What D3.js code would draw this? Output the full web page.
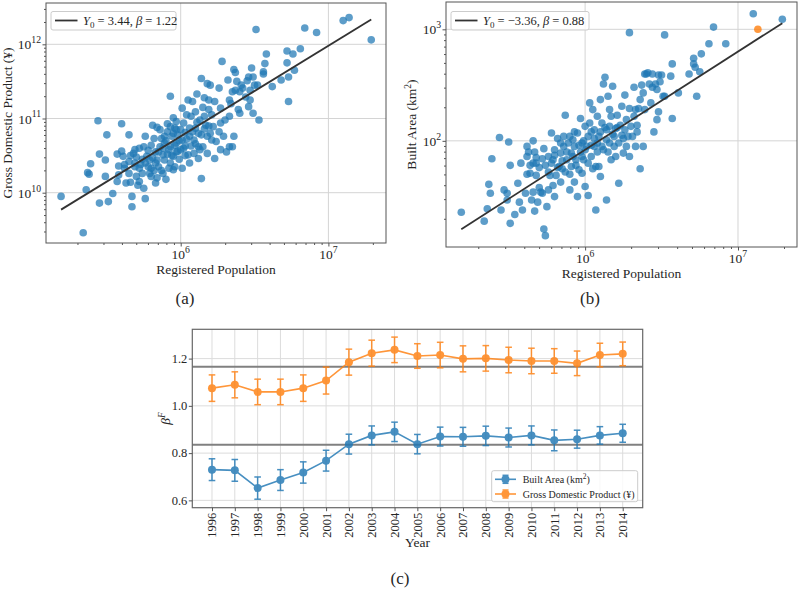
<!DOCTYPE html>
<html><head><meta charset="utf-8">
<script src="https://cdnjs.cloudflare.com/ajax/libs/d3/7.8.5/d3.min.js"></script>
<style>
body{margin:0;background:#fff}
svg text{font-family:"Liberation Serif","DejaVu Serif",serif;fill:#262626}
</style>
</head><body>
<svg id="chart" width="800" height="590"></svg>
<script>
// ---------------- DATA ----------------
// Panel (a): log10 registered population and log10 GDP (¥) per city
const popA = [
5.19,5.34,5.36,5.37,5.38,5.39,5.45,5.44,5.45,5.49,
5.50,5.51,5.49,5.54,5.57,5.60,5.58,5.57,5.58,5.61,
5.62,5.63,5.65,5.65,5.66,5.67,5.67,5.68,5.69,5.69,
5.70,5.71,5.72,5.72,5.74,5.75,5.76,5.75,5.76,5.77,
5.78,5.79,5.79,5.80,5.80,5.81,5.82,5.83,5.83,5.84,
5.84,5.85,5.86,5.86,5.87,5.88,5.88,5.89,5.89,5.90,
5.91,5.91,5.92,5.93,5.93,5.93,5.94,5.95,5.95,5.95,
5.96,5.96,5.97,5.97,5.97,5.98,5.99,6.00,6.01,6.01,
6.01,6.02,6.03,6.03,6.04,6.05,6.05,6.06,6.06,6.06,
6.07,6.07,6.08,6.09,6.09,6.10,6.10,6.11,6.12,6.12,
6.12,6.13,6.14,6.14,6.14,6.15,6.15,6.16,6.16,6.17,
6.18,6.18,6.18,6.19,6.19,6.20,6.20,6.21,6.21,6.22,
6.23,6.23,6.24,6.26,6.26,6.27,6.27,6.27,6.28,6.29,
6.30,6.31,6.32,6.33,6.33,6.33,6.34,6.35,6.35,6.36,
6.36,6.37,6.37,6.38,6.39,6.40,6.40,6.41,6.42,6.44,
6.45,6.46,6.46,6.47,6.47,6.48,6.49,6.49,6.50,6.51,
6.52,6.53,6.56,6.56,6.57,6.58,6.62,6.68,6.72,6.72,
6.73,6.73,6.76,6.77,6.81,6.84,6.92,7.10,7.14,7.29,
5.88,5.90,5.92,5.94,5.96,5.98,5.99,6.00,6.02,6.03,
5.85,5.83,5.81,5.78,5.76,5.74,5.72,5.70,5.93,5.95,
5.97,5.91,5.89,6.04,6.08,6.10,6.13,6.16,6.19,6.11,
5.87,5.80,5.82,5.84,5.65,5.62,5.60,5.66,5.69,5.73];
const gdpA = [
9.95,9.46,10.04,10.27,10.25,10.39,9.86,10.97,10.52,10.44,
10.78,9.88,10.22,9.99,10.52,10.93,10.24,10.15,10.36,10.49,
10.33,10.13,10.78,10.26,10.14,9.81,9.95,10.53,10.58,10.40,
10.22,10.10,10.15,10.33,10.26,10.06,9.92,10.62,10.76,10.49,
10.35,10.26,10.44,10.33,10.64,10.91,10.73,10.55,10.13,10.88,
10.44,10.35,10.62,10.85,10.73,10.51,10.26,10.44,10.67,10.18,
10.82,10.52,10.33,10.89,10.62,11.30,10.76,10.49,11.01,10.31,
10.35,10.87,10.55,10.67,10.96,10.78,10.45,10.58,10.33,11.14,
10.71,10.94,10.81,10.63,11.05,11.25,10.51,10.40,10.76,10.87,
10.63,11.03,11.23,10.53,10.71,10.87,11.09,11.33,10.46,10.80,
10.62,10.98,11.54,10.19,10.78,11.15,10.62,11.28,11.03,10.91,
11.47,10.76,10.53,11.25,11.12,11.45,10.80,10.71,11.05,10.89,
11.23,10.46,10.69,10.82,11.41,10.58,11.14,10.94,11.77,10.76,
10.98,10.55,11.52,10.62,11.25,11.03,11.20,11.36,10.62,10.76,
11.66,11.38,11.62,11.50,11.12,11.36,11.07,11.45,11.41,11.29,
11.51,11.16,11.56,11.38,11.25,11.68,11.56,11.07,11.45,12.20,
11.45,10.98,11.60,11.63,11.74,11.87,11.43,11.52,11.91,11.75,
11.56,11.23,11.87,11.65,11.94,12.22,12.16,12.32,12.36,12.06,
10.60,10.70,10.58,10.50,10.64,10.56,10.70,10.85,10.60,10.50,
10.55,10.40,10.47,10.57,10.40,10.45,10.60,10.48,10.40,10.80,
10.85,10.93,10.76,10.72,10.82,10.66,10.58,10.86,10.90,10.95,
10.30,10.22,10.30,10.20,10.42,10.38,10.56,10.50,10.35,10.38];
const fitA = [3.44, 1.22];          // [Y0, beta]

// Panel (b): log10 registered population and log10 built area (km²)
const popB = [
5.19,5.34,5.37,5.36,5.38,5.39,5.44,5.45,5.47,5.49,
5.49,5.50,5.51,5.54,5.51,5.56,5.58,5.57,5.59,5.61,
5.62,5.62,5.63,5.64,5.65,5.66,5.66,5.67,5.67,5.68,
5.68,5.69,5.70,5.71,5.72,5.73,5.73,5.74,5.75,5.76,
5.76,5.77,5.78,5.79,5.79,5.80,5.80,5.81,5.82,5.83,
5.84,5.84,5.85,5.86,5.87,5.87,5.88,5.89,5.90,5.90,
5.91,5.91,5.92,5.93,5.93,5.94,5.95,5.95,5.96,5.97,
5.97,5.98,5.98,5.99,6.00,6.00,6.01,6.02,6.02,6.03,
6.03,6.04,6.04,6.05,6.05,6.06,6.07,6.07,6.08,6.08,
6.09,6.09,6.10,6.10,6.11,6.11,6.12,6.13,6.13,6.14,
6.14,6.15,6.15,6.16,6.16,6.17,6.17,6.18,6.19,6.19,
6.20,6.20,6.21,6.22,6.22,6.23,6.24,6.24,6.25,6.26,
6.26,6.27,6.27,6.28,6.29,6.29,6.29,6.30,6.31,6.32,
6.32,6.33,6.33,6.34,6.34,6.35,6.36,6.36,6.37,6.38,
6.38,6.39,6.39,6.40,6.41,6.42,6.43,6.44,6.44,6.45,
6.46,6.47,6.47,6.48,6.48,6.49,6.50,6.51,6.52,6.52,
6.56,6.57,6.57,6.61,6.68,6.71,6.71,6.72,6.73,6.75,
6.76,6.81,6.84,6.92,7.10,7.29,
5.85,5.88,5.90,5.92,5.94,5.96,5.98,6.00,6.02,5.82,
5.80,5.78,5.76,5.74,5.72,5.70,5.68,5.66,5.64,5.62,
6.04,6.06,6.08,6.10,6.12,6.14,6.06,5.99,5.93,5.86,
5.84,6.18,6.21,6.25,6.16];
const areaB = [
1.36,1.28,1.61,1.39,1.53,1.84,2.03,1.38,1.56,1.47,
1.53,1.99,1.26,1.34,1.78,1.62,1.80,1.45,1.38,1.53,
1.95,1.70,1.90,1.71,1.47,1.54,2.00,1.37,1.90,1.69,
1.80,1.45,1.58,1.54,1.53,1.21,1.93,1.15,1.41,1.56,
1.86,1.69,2.07,1.60,1.83,1.50,1.87,1.69,2.02,1.77,
1.63,1.89,1.75,1.95,1.72,2.23,1.83,1.98,1.56,2.04,
1.89,1.77,2.01,1.63,1.95,1.83,2.07,1.50,1.74,1.90,
2.20,1.98,1.71,1.83,2.13,1.59,1.95,1.51,2.04,2.34,
2.16,1.86,2.08,1.75,2.28,1.95,1.77,1.38,2.22,1.90,
2.04,1.77,2.37,1.68,1.95,2.16,2.51,2.12,2.57,1.47,
2.01,2.40,1.90,2.28,2.13,1.83,2.22,2.49,1.95,2.04,
2.11,1.86,2.23,1.62,1.98,2.14,2.05,2.31,1.89,2.10,
2.41,1.95,2.19,2.04,2.97,1.86,2.29,2.13,2.04,2.48,
2.22,1.95,2.28,2.14,2.08,2.29,1.75,2.37,2.50,2.43,
1.95,2.60,2.28,2.60,2.61,2.51,2.34,2.60,2.48,2.08,
2.51,2.46,2.19,2.59,2.26,2.53,2.59,2.40,2.95,2.40,
2.58,2.69,2.20,2.43,2.60,2.74,2.69,2.66,2.40,2.62,
2.78,2.87,3.02,2.87,3.14,3.09,
1.82,1.90,1.70,1.86,1.78,1.96,1.86,1.92,1.80,1.76,
1.92,1.80,1.72,1.78,1.84,1.76,1.85,1.80,1.78,1.86,
1.96,2.02,1.98,2.08,1.92,2.10,2.10,2.00,2.08,2.04,
1.98,2.06,2.12,2.02,1.98];
const popBHighlight = [7.13];
const areaBHighlight = [3.00];
const fitB = [-3.36, 0.88];         // [Y0, beta]

// Panel (c): yearly scaling exponents
const years = [1996,1997,1998,1999,2000,2001,2002,2003,2004,2005,2006,2007,2008,2009,2010,2011,2012,2013,2014];
const betaArea = [0.730,0.727,0.652,0.686,0.718,0.768,0.838,0.875,0.890,0.838,0.870,0.869,0.873,0.866,0.875,0.854,0.859,0.875,0.884];
const betaAreaErr = [0.046,0.046,0.047,0.044,0.045,0.044,0.042,0.040,0.041,0.041,0.040,0.040,0.041,0.040,0.040,0.044,0.038,0.037,0.038];
const betaGDP = [1.075,1.089,1.059,1.059,1.075,1.107,1.185,1.223,1.237,1.211,1.215,1.199,1.201,1.194,1.190,1.190,1.180,1.215,1.220];
const betaGDPErr = [0.056,0.055,0.054,0.054,0.056,0.057,0.055,0.055,0.054,0.052,0.054,0.055,0.054,0.054,0.054,0.052,0.052,0.050,0.050];
const refLines = [1.166, 0.835];
const cTicks = [0.6, 0.8, 1.0, 1.2];

// ---------------- DRAW ----------------
const BLUE = "#1f77b4", ORANGE = "#ff7f0e";
const svg = d3.select("#chart");

function superLabel(sel, base, exp, fs) {
  sel.append("tspan").text(base);
  sel.append("tspan").attr("dy", -fs*0.45).attr("font-size", fs*0.72).text(exp);
}

function logPanel(cfg) {
  const g = svg.append("g");
  const x = d3.scaleLog().domain([10**cfg.xd[0], 10**cfg.xd[1]]).range([cfg.x0, cfg.x1]);
  const y = d3.scaleLog().domain([10**cfg.yd[0], 10**cfg.yd[1]]).range([cfg.y1, cfg.y0]);
  const minors = (d) => { const out=[]; for (let e=Math.floor(d[0]); e<=Math.ceil(d[1]); e++) for (let m=2;m<=9;m++){const v=Math.log10(m)+e; if(v>d[0]&&v<d[1]) out.push(10**v);} return out; };
  // grid
  g.selectAll(".gx").data(cfg.xMajor).join("line")
    .attr("x1", d=>x(10**d)).attr("x2", d=>x(10**d)).attr("y1", cfg.y0).attr("y2", cfg.y1)
    .attr("stroke", "#d4d4d4").attr("stroke-width", 1);
  g.selectAll(".gy").data(cfg.yMajor).join("line")
    .attr("y1", d=>y(10**d)).attr("y2", d=>y(10**d)).attr("x1", cfg.x0).attr("x2", cfg.x1)
    .attr("stroke", "#d4d4d4").attr("stroke-width", 1);
  // points
  g.selectAll(".pt").data(cfg.px.map((p,i)=>[p, cfg.py[i]])).join("circle")
    .attr("cx", d=>x(10**d[0])).attr("cy", d=>y(10**d[1])).attr("r", 3.8)
    .attr("fill", BLUE).attr("fill-opacity", 0.72);
  if (cfg.hx) g.selectAll(".hi").data(cfg.hx.map((p,i)=>[p, cfg.hy[i]])).join("circle")
    .attr("cx", d=>x(10**d[0])).attr("cy", d=>y(10**d[1])).attr("r", 3.8)
    .attr("fill", ORANGE).attr("fill-opacity", 0.8);
  // fit line
  const lo = d3.min(cfg.px), hi = d3.max(cfg.px);
  g.append("path").datum([lo, hi])
    .attr("d", d3.line().x(p=>x(10**p)).y(p=>y(10**(cfg.fit[0]+cfg.fit[1]*p))))
    .attr("stroke", "#333").attr("stroke-width", 1.8).attr("fill", "none");
  // frame
  g.append("rect").attr("x", cfg.x0).attr("y", cfg.y0).attr("width", cfg.x1-cfg.x0).attr("height", cfg.y1-cfg.y0)
    .attr("fill", "none").attr("stroke", "#555").attr("stroke-width", 1);
  // ticks
  const ax = g.append("g").attr("transform", `translate(0,${cfg.y1})`);
  ax.call(d3.axisBottom(x).tickValues(cfg.xMajor.map(d=>10**d)).tickSize(3.5).tickFormat(""));
  const axm = g.append("g").attr("transform", `translate(0,${cfg.y1})`);
  axm.call(d3.axisBottom(x).tickValues(minors(cfg.xd)).tickSize(2).tickFormat(""));
  const ay = g.append("g").attr("transform", `translate(${cfg.x0},0)`);
  ay.call(d3.axisLeft(y).tickValues(cfg.yMajor.map(d=>10**d)).tickSize(3.5).tickFormat(""));
  const aym = g.append("g").attr("transform", `translate(${cfg.x0},0)`);
  aym.call(d3.axisLeft(y).tickValues(minors(cfg.yd)).tickSize(2).tickFormat(""));
  [ax, axm, ay, aym].forEach(a => { a.select(".domain").remove(); a.selectAll("line").attr("stroke", "#555"); });
  // tick labels
  cfg.xMajor.forEach(m => {
    const t = g.append("text").attr("x", x(10**m)).attr("y", cfg.y1+16).attr("text-anchor", "middle").attr("font-size", 13.5);
    superLabel(t, "10", String(m), 13.5);
  });
  cfg.yMajor.forEach(m => {
    const t = g.append("text").attr("x", cfg.x0-5).attr("y", y(10**m)+5).attr("text-anchor", "end").attr("font-size", 13.5);
    superLabel(t, "10", String(m), 13.5);
  });
  // axis labels
  g.append("text").attr("x", (cfg.x0+cfg.x1)/2).attr("y", cfg.y1+31).attr("text-anchor", "middle")
    .attr("font-size", 13.5).text("Registered Population");
  const yl = g.append("text").attr("transform", `translate(${cfg.ylx},${(cfg.y0+cfg.y1)/2}) rotate(-90)`)
    .attr("text-anchor", "middle").attr("font-size", 13.5);
  cfg.ylabel(yl);
  // legend
  const L = cfg.leg;
  g.append("rect").attr("x", L.x).attr("y", L.y).attr("width", L.w).attr("height", 18.5).attr("rx", 2)
    .attr("fill", "#fff").attr("fill-opacity", 0.8).attr("stroke", "#ccc");
  g.append("line").attr("x1", L.x+4).attr("x2", L.x+26.5).attr("y1", L.y+9).attr("y2", L.y+9)
    .attr("stroke", "#333").attr("stroke-width", 1.8);
  const lt = g.append("text").attr("x", L.x+32).attr("y", L.y+13.3).attr("font-size", 12.5);
  lt.append("tspan").attr("font-style", "italic").text("Y");
  lt.append("tspan").attr("font-size", 9).attr("dy", 3).text("0");
  lt.append("tspan").attr("dy", -3).text(` = ${cfg.fit[0] < 0 ? "\u2212" + Math.abs(cfg.fit[0]).toFixed(2) : cfg.fit[0].toFixed(2)}, `);
  lt.append("tspan").attr("font-style", "italic").text("\u03b2");
  lt.append("tspan").text(` = ${cfg.fit[1].toFixed(2)}`);
}

logPanel({
  x0: 46, x1: 386, y0: 3, y1: 243, xd: [5.088, 7.39], yd: [9.322, 12.557],
  xMajor: [6, 7], yMajor: [10, 11, 12], px: popA, py: gdpA, fit: fitA, ylx: 12,
  ylabel: t => t.text("Gross Domestic Product (\u00a5)"),
  leg: {x: 51, y: 11.5, w: 125}
});
logPanel({
  x0: 446, x1: 797, y0: 2, y1: 247, xd: [5.09, 7.386], yd: [1.048, 3.245],
  xMajor: [6, 7], yMajor: [2, 3], px: popB, py: areaB, hx: popBHighlight, hy: areaBHighlight, fit: fitB, ylx: 416,
  ylabel: t => { t.append("tspan").text("Built Area (km"); t.append("tspan").attr("dy", -5).attr("font-size", 9.5).text("2"); t.append("tspan").attr("dy", 5).text(")"); },
  leg: {x: 451, y: 11.5, w: 138}
});

// captions
[["(a)", 185, 304], ["(b)", 590, 304], ["(c)", 400, 584]].forEach(([s, cx, cy]) =>
  svg.append("text").attr("x", cx).attr("y", cy).attr("text-anchor", "middle").attr("font-size", 17).text(s));

// ---------------- Panel (c) ----------------
const c = {x0: 192.3, x1: 642.7, y0: 329.3, y1: 507.7};
const gc = svg.append("g");
const xc = d3.scaleLinear().domain([1995.137, 2014.876]).range([c.x0, c.x1]);
const yc = d3.scaleLinear().domain([0.569, 1.324]).range([c.y1, c.y0]);
gc.selectAll(".vg").data(years).join("line")
  .attr("x1", d=>xc(d)).attr("x2", d=>xc(d)).attr("y1", c.y0).attr("y2", c.y1).attr("stroke", "#dcdcdc");
gc.selectAll(".hg").data(cTicks).join("line")
  .attr("y1", d=>yc(d)).attr("y2", d=>yc(d)).attr("x1", c.x0).attr("x2", c.x1).attr("stroke", "#dcdcdc");
gc.selectAll(".ref").data(refLines).join("line")
  .attr("y1", d=>yc(d)).attr("y2", d=>yc(d)).attr("x1", c.x0).attr("x2", c.x1)
  .attr("stroke", "#808080").attr("stroke-width", 2);

function series(vals, errs, color) {
  const s = gc.append("g").attr("opacity", 0.82);
  s.append("path").datum(years.map((yr,i)=>[yr, vals[i]]))
    .attr("d", d3.line().x(d=>xc(d[0])).y(d=>yc(d[1]))).attr("fill", "none").attr("stroke", color).attr("stroke-width", 1.6);
  const e = s.selectAll(".eb").data(years.map((yr,i)=>[yr, vals[i], errs[i]])).join("g");
  e.append("line").attr("x1", d=>xc(d[0])).attr("x2", d=>xc(d[0])).attr("y1", d=>yc(d[1]-d[2])).attr("y2", d=>yc(d[1]+d[2]))
    .attr("stroke", color).attr("stroke-width", 1.5);
  [-1, 1].forEach(sg => e.append("line").attr("x1", d=>xc(d[0])-3.3).attr("x2", d=>xc(d[0])+3.3)
    .attr("y1", d=>yc(d[1]+sg*d[2])).attr("y2", d=>yc(d[1]+sg*d[2])).attr("stroke", color).attr("stroke-width", 1.5));
  e.append("circle").attr("cx", d=>xc(d[0])).attr("cy", d=>yc(d[1])).attr("r", 4).attr("fill", color);
}
series(betaGDP, betaGDPErr, ORANGE);
series(betaArea, betaAreaErr, BLUE);

gc.append("rect").attr("x", c.x0).attr("y", c.y0).attr("width", c.x1-c.x0).attr("height", c.y1-c.y0)
  .attr("fill", "none").attr("stroke", "#666").attr("stroke-width", 1.2);
const cax = gc.append("g").attr("transform", `translate(0,${c.y1})`)
  .call(d3.axisBottom(xc).tickValues(years).tickSize(3.5).tickFormat(""));
const cay = gc.append("g").attr("transform", `translate(${c.x0},0)`)
  .call(d3.axisLeft(yc).tickValues(cTicks).tickSize(3.5).tickFormat(""));
[cax, cay].forEach(a => { a.select(".domain").remove(); a.selectAll("line").attr("stroke", "#555"); });
years.forEach(yr => gc.append("text").attr("transform", `translate(${xc(yr)+4.5},${c.y1+5}) rotate(-90)`)
  .attr("text-anchor", "end").attr("font-size", 12.5).text(yr));
cTicks.forEach(v => gc.append("text").attr("x", c.x0-5).attr("y", yc(v)+4.3).attr("text-anchor", "end")
  .attr("font-size", 12.5).text(v.toFixed(1)));
gc.append("text").attr("x", (c.x0+c.x1)/2).attr("y", 547).attr("text-anchor", "middle").attr("font-size", 13.5).text("Year");
const bl = gc.append("text").attr("transform", `translate(170,${(c.y0+c.y1)/2}) rotate(-90)`).attr("text-anchor", "middle").attr("font-size", 13.5);
bl.append("tspan").attr("font-style", "italic").text("\u03b2");
bl.append("tspan").attr("font-style", "italic").attr("dy", -5).attr("font-size", 9.5).text("F");

// legend (c)
const lg = gc.append("g");
lg.append("rect").attr("x", 491.7).attr("y", 470.7).attr("width", 146).attr("height", 31).attr("rx", 2)
  .attr("fill", "#fff").attr("fill-opacity", 0.8).attr("stroke", "#ccc");
[[BLUE, 479.3, t => { t.append("tspan").text("Built Area (km"); t.append("tspan").attr("dy", -4).attr("font-size", 7.5).text("2"); t.append("tspan").attr("dy", 4).text(")"); }],
 [ORANGE, 494, t => t.text("Gross Domestic Product (\u00a5)")]].forEach(([col, yy, lab]) => {
  const e = lg.append("g").attr("opacity", 0.82);
  e.append("line").attr("x1", 495).attr("x2", 516).attr("y1", yy).attr("y2", yy).attr("stroke", col).attr("stroke-width", 1.6);
  e.append("line").attr("x1", 505.5).attr("x2", 505.5).attr("y1", yy-4).attr("y2", yy+4).attr("stroke", col).attr("stroke-width", 1.5);
  [-4, 4].forEach(o => e.append("line").attr("x1", 502.5).attr("x2", 508.5).attr("y1", yy+o).attr("y2", yy+o).attr("stroke", col).attr("stroke-width", 1.5));
  e.append("circle").attr("cx", 505.5).attr("cy", yy).attr("r", 4).attr("fill", col);
  const t = lg.append("text").attr("x", 522.7).attr("y", yy+3.5).attr("font-size", 10);
  lab(t);
});
</script>
</body></html>
